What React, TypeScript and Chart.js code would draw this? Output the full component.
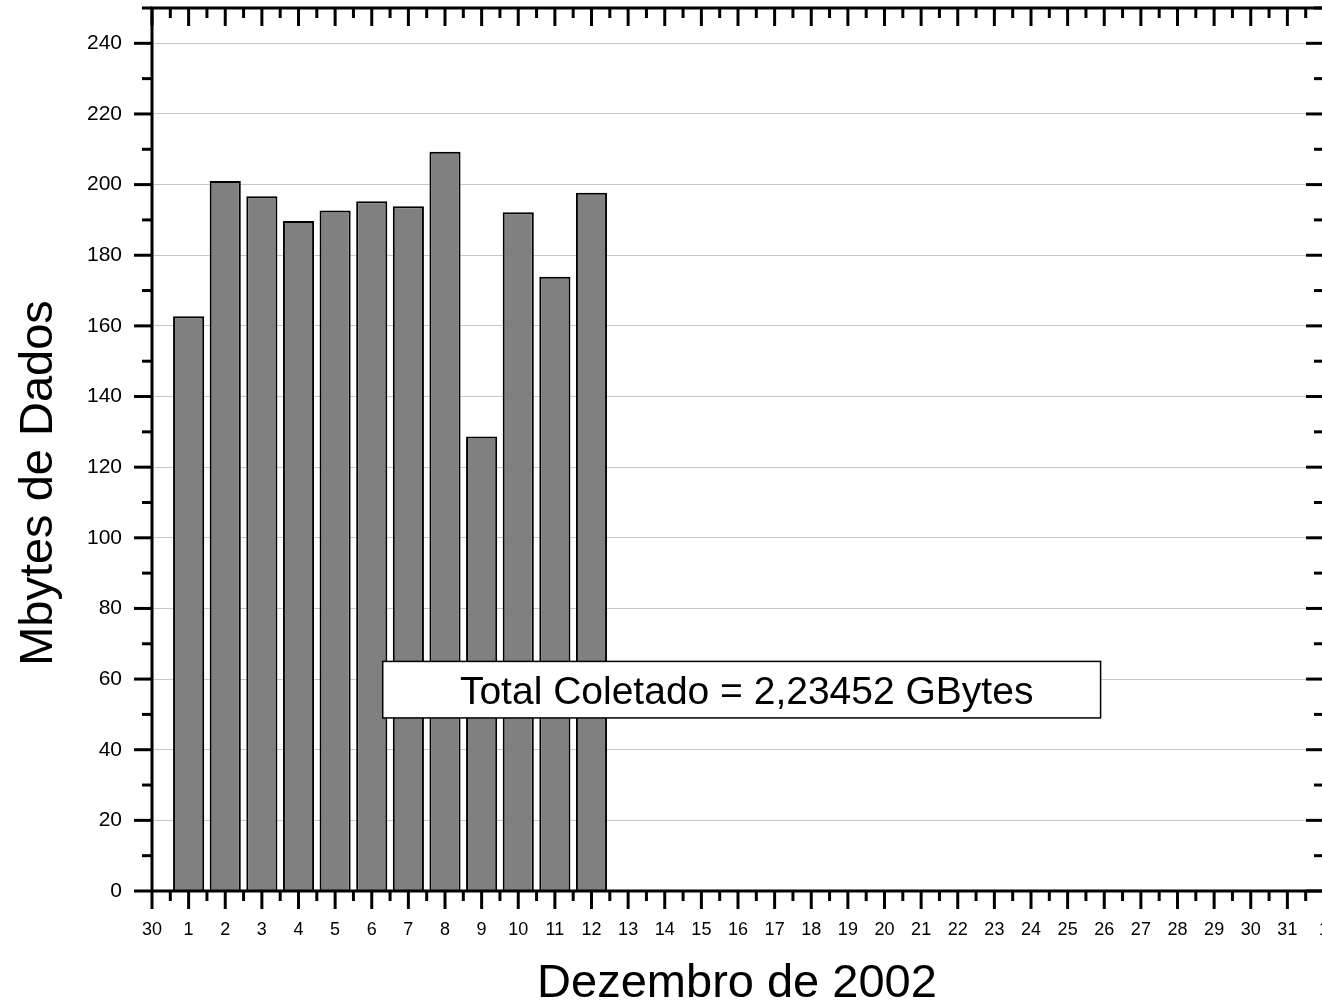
import React, { useEffect, useRef } from "react";
import { Chart, registerables } from "chart.js";

Chart.register(...registerables);

// ---- data ----
const days = [1, 2, 3, 4, 5, 6, 7, 8, 9, 10, 11, 12];
const mbytes = [162.7, 201.0, 196.7, 189.7, 192.7, 195.3, 193.9, 209.3, 128.7, 192.2, 173.9, 197.7];
const xTickLabels = [
  "30", "1", "2", "3", "4", "5", "6", "7", "8", "9", "10", "11", "12", "13", "14", "15",
  "16", "17", "18", "19", "20", "21", "22", "23", "24", "25", "26", "27", "28", "29", "30", "31", "1",
];
const yMin = 0;
const yMax = 250;
const yStep = 20;
const xTitle = "Dezembro de 2002";
const yTitle = "Mbytes de Dados";
const annotationText = "Total Coletado = 2,23452 GBytes";

const FONT = "'Liberation Sans', Arial, Helvetica, sans-serif";
const CANVAS_W = 1328;
const VIEW_W = 1322;
const H = 1004;

const framePlugin = {
  id: "originFrame",
  afterDatasetsDraw(chart: any) {
    const { ctx, chartArea, scales } = chart;
    const { left, right, top, bottom } = chartArea;
    const x = scales.x;
    const y = scales.y;
    ctx.save();
    ctx.strokeStyle = "#000";
    ctx.lineCap = "butt";
    ctx.lineWidth = 3;
    const seg = (x1: number, y1: number, x2: number, y2: number) => {
      ctx.beginPath();
      ctx.moveTo(x1, y1);
      ctx.lineTo(x2, y2);
      ctx.stroke();
    };
    // y ticks (left outward, right inward)
    for (let v = yMin; v <= yMax + 0.001; v += yStep / 2) {
      const py = y.getPixelForValue(v);
      const major = Math.round(v) % yStep === 0;
      const len = major ? 18 : 10;
      seg(left - len, py, left, py);
      seg(right - len, py, right, py);
    }
    // x ticks (bottom outward, top inward)
    for (let i = 0; i <= (xTickLabels.length - 1) * 2; i++) {
      const v = i / 2;
      const px = x.getPixelForValue(v);
      const len = i % 2 === 0 ? 18 : 10;
      seg(px, bottom, px, bottom + len);
      seg(px, top, px, top + len);
    }
    // frame
    ctx.strokeRect(left, top, right - left, bottom - top);

    // annotation box
    const bx0 = x.getPixelForValue(6.3);
    const bx1 = x.getPixelForValue(25.9);
    const by0 = y.getPixelForValue(65);
    const by1 = y.getPixelForValue(49);
    ctx.fillStyle = "#fff";
    ctx.fillRect(bx0, by0, bx1 - bx0, by1 - by0);
    ctx.lineWidth = 1.5;
    ctx.strokeRect(bx0, by0, bx1 - bx0, by1 - by0);
    ctx.fillStyle = "#000";
    ctx.font = `39px ${FONT}`;
    ctx.textAlign = "center";
    ctx.textBaseline = "alphabetic";
    ctx.fillText(annotationText, (bx0 + bx1) / 2 + 5, y.getPixelForValue(52.9));

    // axis titles
    ctx.font = `47px ${FONT}`;
    ctx.fillText(xTitle, 737, 997);
    ctx.save();
    ctx.translate(52, 483);
    ctx.rotate(-Math.PI / 2);
    ctx.fillText(yTitle, 0, 0);
    ctx.restore();
    ctx.restore();
  },
};

export default function App() {
  const canvasRef = useRef<HTMLCanvasElement | null>(null);

  useEffect(() => {
    document.body.style.margin = "0";
    const canvas = canvasRef.current;
    if (!canvas) return;
    Chart.defaults.font.family = FONT;
    const chart = new Chart(canvas, {
      type: "bar",
      data: {
        datasets: [
          {
            data: days.map((d, i) => ({ x: d, y: mbytes[i] })),
            backgroundColor: "#808080",
            borderColor: "#000",
            borderWidth: 2,
            barPercentage: 0.85,
            categoryPercentage: 1,
          },
        ],
      },
      options: {
        responsive: false,
        animation: false,
        devicePixelRatio: 1,
        layout: { padding: { top: 8, right: CANVAS_W - 1324, bottom: 0, left: 0 } },
        plugins: { legend: { display: false }, tooltip: { enabled: false } },
        scales: {
          x: {
            type: "linear",
            offset: false,
            min: 0,
            max: xTickLabels.length - 1,
            grid: { display: false, drawTicks: false, offset: false },
            border: { display: false },
            ticks: {
              stepSize: 1,
              autoSkip: false,
              maxRotation: 0,
              includeBounds: false,
              padding: 28,
              color: "#000",
              font: { size: 18 },
              callback: (v: any) => xTickLabels[Math.round(Number(v))] ?? "",
            },
            afterFit: (s: any) => {
              s.height = 113;
              s.paddingLeft = 0;
              s.paddingRight = 0;
            },
          },
          y: {
            type: "linear",
            min: yMin,
            max: yMax,
            grid: { color: "#c8c8c8", lineWidth: 1, drawTicks: false },
            border: { display: false },
            ticks: {
              stepSize: yStep,
              includeBounds: false,
              padding: 30,
              color: "#000",
              font: { size: 21 },
            },
            afterFit: (s: any) => {
              s.width = 152;
              s.paddingTop = 0;
              s.paddingBottom = 0;
            },
          },
        },
      },
      plugins: [framePlugin],
    });
    return () => chart.destroy();
  }, []);

  return (
    <div style={{ width: VIEW_W, height: H, overflow: "hidden", background: "#fff" }}>
      <canvas ref={canvasRef} width={CANVAS_W} height={H} style={{ display: "block" }} />
    </div>
  );
}
